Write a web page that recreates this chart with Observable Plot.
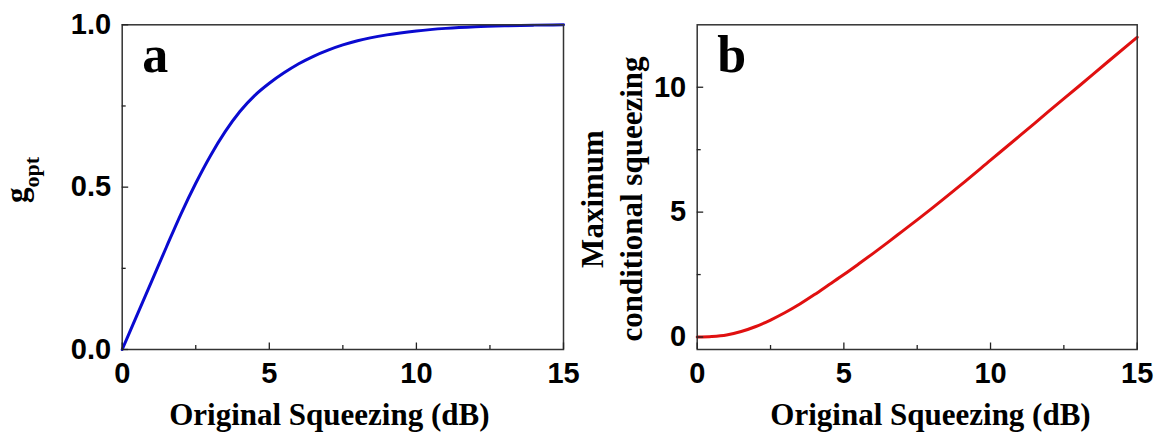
<!DOCTYPE html>
<html>
<head>
<meta charset="utf-8">
<script src="https://cdn.jsdelivr.net/npm/d3@7"></script>
<script src="https://cdn.jsdelivr.net/npm/@observablehq/plot@0.6"></script>
<style>
  html, body { margin: 0; padding: 0; background: #fff; }
  #fig { position: relative; width: 1168px; height: 441px; overflow: hidden; background: #fff; }
  #fig svg { position: absolute; top: 0; }
</style>
</head>
<body>
<div id="fig"></div>
<script>
// Original squeezing (dB) sample points shared by both panels
const squeezingDb = [0, 0.5, 1, 1.5, 2, 2.5, 3, 3.5, 4, 4.5, 5, 5.5, 6, 6.5, 7, 7.5, 8, 9, 10, 11, 12, 13, 14, 15];
// Panel a: optimal gain g_opt
const gOpt = [0, 0.105, 0.21, 0.315, 0.418, 0.512, 0.597, 0.671, 0.733, 0.782, 0.82, 0.852, 0.88, 0.903, 0.922, 0.938, 0.951, 0.969, 0.981, 0.989, 0.994, 0.997, 0.999, 1.0];
// Panel b: maximum conditional squeezing
const maxConditional = [0, 0.02, 0.08, 0.22, 0.42, 0.68, 0.98, 1.32, 1.7, 2.1, 2.5, 2.92, 3.35, 3.79, 4.24, 4.69, 5.15, 6.1, 7.08, 8.06, 9.05, 10.03, 11.02, 12.0];

// Tick values
const xMajorTicks = [0, 5, 10, 15];
const xMinorTicks = [2.5, 7.5, 12.5];
const gMajorTicks = [0, 0.5, 1];
const gMinorTicks = [0.25, 0.75];
const condMajorTicks = [0, 5, 10];
const condMinorTicks = [2.5, 7.5];

// Texts
const xTitle = "Original Squeezing (dB)";
const panelLetters = ["a", "b"];
const condTitleLines = ["Maximum", "conditional squeezing"];

const serif = "'Liberation Serif', 'Times New Roman', serif";
const sans = "'Liberation Sans', Arial, sans-serif";
const fig = document.getElementById("fig");

function panel(o) {
  const data = squeezingDb.map((x, i) => ({x, y: o.values[i]}));
  const tickStyle = {stroke: "#222", strokeWidth: 1.3};
  const labelStyle = {fontSize: 29, fontWeight: "bold", fontFamily: sans, fill: "#000"};
  return Plot.plot({
    width: 584,
    height: 441,
    marginLeft: o.marginLeft,
    marginRight: o.marginRight,
    marginTop: 24.3,
    marginBottom: 92,
    style: {background: "transparent", fontFamily: sans, overflow: "visible", color: "#000"},
    x: {domain: [0, 15], label: null},
    y: {domain: o.yDomain, label: null},
    marks: [
      Plot.line(data, {x: "x", y: "y", stroke: o.color, strokeWidth: 3, curve: "monotone-x"}),
      Plot.frame({stroke: "#333", strokeWidth: 1.5}),
      // inward major ticks with labels
      Plot.axisX({ticks: xMajorTicks, tickSize: -6.5, tickPadding: 19.5, tickFormat: d3.format("d"), ...tickStyle, ...labelStyle}),
      Plot.axisX({ticks: xMinorTicks, tickSize: -4, tickFormat: () => "", ...tickStyle}),
      Plot.axisY({ticks: o.yTicks, tickSize: -6.5, tickPadding: 17.5, tickFormat: o.yFormat, ...tickStyle, ...labelStyle}),
      Plot.axisY({ticks: o.yMinor, tickSize: -4, tickFormat: () => "", ...tickStyle}),
      // panel letter
      Plot.text([o.letter], {frameAnchor: "top-left", textAnchor: "start", lineAnchor: "middle", dx: 20, dy: 31,
        fontSize: 52, fontWeight: "bold", fontFamily: serif, fill: "#000"}),
      // x axis title
      Plot.text([xTitle], {frameAnchor: "bottom", lineAnchor: "middle", dx: o.titleDx, dy: 66,
        fontSize: 31, fontWeight: "bold", fontFamily: serif, fill: "#000"})
    ]
  });
}

// Panel a
const svgA = panel({
  values: gOpt, color: "#0a0ad0", yDomain: [0, 1],
  yTicks: gMajorTicks, yMinor: gMinorTicks, yFormat: d3.format(".1f"),
  marginLeft: 121.7, marginRight: 21, letter: panelLetters[0], titleDx: -13.5
});
svgA.style.left = "0px";
fig.appendChild(svgA);

// y title g_opt with subscript
const tA = d3.select(svgA).append("text")
  .attr("transform", "translate(27,180) rotate(-90)")
  .attr("text-anchor", "middle")
  .attr("font-family", serif)
  .attr("font-weight", "bold")
  .attr("fill", "#000");
tA.append("tspan").attr("font-size", 31).text("g");
tA.append("tspan").attr("font-size", 22).attr("dy", 12).text("opt");

// Panel b
const svgB = panel({
  values: maxConditional, color: "#e01010", yDomain: [-0.5, 12.5],
  yTicks: condMajorTicks, yMinor: condMinorTicks, yFormat: d3.format("d"),
  marginLeft: 112.7, marginRight: 31.3, letter: panelLetters[1], titleDx: 13.3
});
svgB.style.left = "584px";
fig.appendChild(svgB);

// two-line y title
const tB = d3.select(svgB).append("text")
  .attr("transform", "translate(0,199) rotate(-90)")
  .attr("text-anchor", "middle")
  .attr("font-family", serif)
  .attr("font-weight", "bold")
  .attr("font-size", 31)
  .attr("fill", "#000");
tB.append("tspan").attr("x", 0).attr("y", 19).text(condTitleLines[0]);
tB.append("tspan").attr("x", 0).attr("y", 58).text(condTitleLines[1]);
</script>
</body>
</html>
